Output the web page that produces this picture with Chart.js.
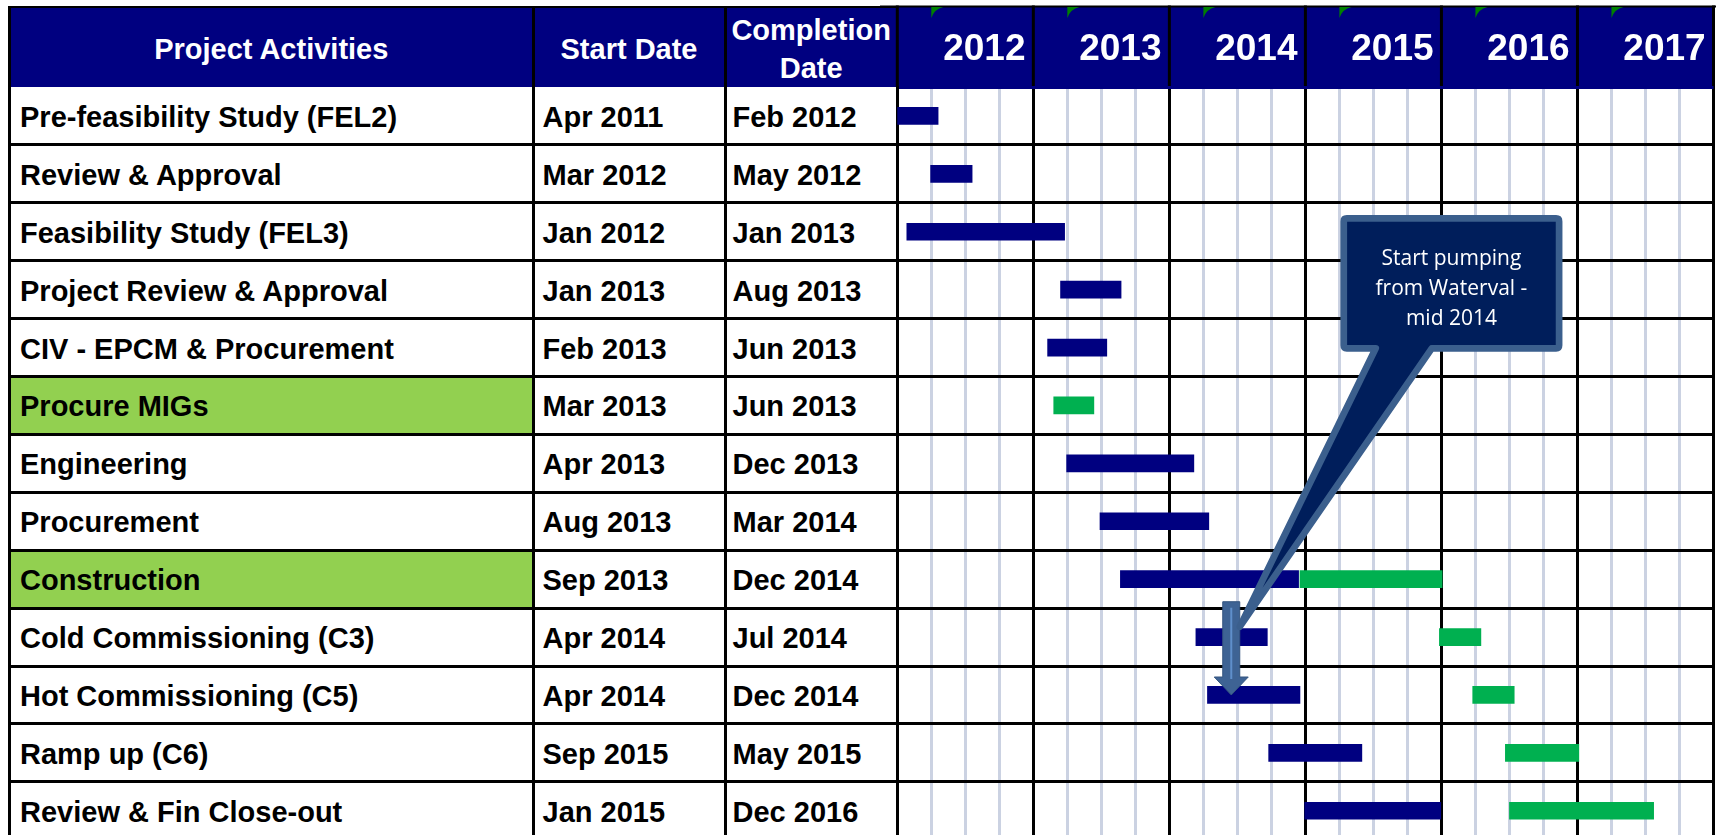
<!DOCTYPE html>
<html>
<head>
<meta charset="utf-8">
<title>Project schedule</title>
<script src="https://cdn.jsdelivr.net/npm/chart.js@4.4.1/dist/chart.umd.min.js"></script>
<style>
  html, body { margin: 0; padding: 0; background: #fff; overflow: hidden; }
  #page { position: relative; width: 1716px; height: 835px; overflow: hidden;
          font-family: 'Liberation Sans', Arial, sans-serif; font-weight: bold; }
  #ganttCanvas { position: absolute; left: 880px; top: 0; }
  .abs { position: absolute; box-sizing: border-box; }
  .cell { display: flex; align-items: center; white-space: nowrap; color: #000; font-size: 29px; padding-top: 3px; }
  .head { display: flex; align-items: center; justify-content: center; text-align: center;
          color: #fff; font-size: 29px; line-height: 38px; padding-top: 4px; }
  .line { background: #000; }
</style>
</head>
<body>
<div id="page">
  <div id="table"></div>
  <canvas id="ganttCanvas" width="836" height="860"></canvas>
</div>
<script>
// chart data
const activities = [
  'Pre-feasibility Study (FEL2)',
  'Review & Approval',
  'Feasibility Study (FEL3)',
  'Project Review & Approval',
  'CIV - EPCM & Procurement',
  'Procure MIGs',
  'Engineering',
  'Procurement',
  'Construction',
  'Cold Commissioning (C3)',
  'Hot Commissioning (C5)',
  'Ramp up (C6)',
  'Review & Fin Close-out'
];
const startDates = ['Apr 2011', 'Mar 2012', 'Jan 2012', 'Jan 2013', 'Feb 2013', 'Mar 2013', 'Apr 2013',
                    'Aug 2013', 'Sep 2013', 'Apr 2014', 'Apr 2014', 'Sep 2015', 'Jan 2015'];
const completionDates = ['Feb 2012', 'May 2012', 'Jan 2013', 'Aug 2013', 'Jun 2013', 'Jun 2013', 'Dec 2013',
                         'Mar 2014', 'Dec 2014', 'Jul 2014', 'Dec 2014', 'May 2015', 'Dec 2016'];
const highlightedActivities = ['Procure MIGs', 'Construction'];
const columnTitles = ['Project Activities', 'Start Date', 'Completion<br>Date'];
const years = [2012, 2013, 2014, 2015, 2016, 2017];

// bars as [start, end] in decimal years
const plannedBars = [
  [2012.00, 2012.30], [2012.245, 2012.55], [2012.07, 2013.23], [2013.20, 2013.645], [2013.105, 2013.54],
  null, [2013.245, 2014.18], [2013.49, 2014.29], [2013.64, 2014.95], [2014.195, 2014.72],
  [2014.28, 2014.96], [2014.73, 2015.415], [2014.995, 2015.995]
];
const revisedBars = [
  null, null, null, null, null,
  [2013.15, 2013.445], null, null, [2014.96, 2016.005], [2015.985, 2016.29],
  [2016.23, 2016.535], [2016.47, 2017.01], [2016.50, 2017.56]
];

const calloutLines = ['Start pumping', 'from Waterval -', 'mid 2014'];

// layout
const FONT = "'Liberation Sans', Arial, sans-serif";
const NAVY = '#000080';
const ROW_H = 57.9;
const HEAD_TOP = 7;
const HEAD_BOTTOM = 87;
const colEdges = [9.5, 533, 725, 897.3];
const colPad = [9, 8, 6];

const table = document.getElementById('table');
function addBox(cls, css, html) {
  const d = document.createElement('div');
  d.className = 'abs ' + cls;
  for (const k in css) d.style[k] = typeof css[k] === 'number' ? css[k] + 'px' : css[k];
  if (html) d.innerHTML = html;
  table.appendChild(d);
  return d;
}

// header block
addBox('', { left: 8, top: HEAD_TOP, width: colEdges[3] - 8, height: HEAD_BOTTOM - HEAD_TOP, background: NAVY });
columnTitles.forEach((t, c) => {
  addBox('head', { left: colEdges[c], top: HEAD_TOP, width: colEdges[c + 1] - colEdges[c], height: HEAD_BOTTOM - HEAD_TOP }, t);
});

// rows
activities.forEach((name, i) => {
  const top = HEAD_BOTTOM + i * ROW_H;
  if (highlightedActivities.includes(name)) {
    addBox('', { left: colEdges[0], top: top, width: colEdges[1] - colEdges[0], height: ROW_H, background: '#92D050' });
  }
  [name, startDates[i], completionDates[i]].forEach((txt, c) => {
    const cell = addBox('cell', { left: colEdges[c] + 1.5 + colPad[c], top: top, height: ROW_H });
    cell.textContent = txt;
  });
});

// grid lines of the table
addBox('line', { left: 8, top: 5.5, width: colEdges[3] - 8, height: 2 });
colEdges.slice(0, 3).forEach(x => {
  addBox('line', { left: x - 1.5, top: 5.5, width: 3, height: 840 });
});
for (let i = 1; i <= activities.length; i++) {
  addBox('line', { left: 8, top: HEAD_BOTTOM + i * ROW_H - 1.5, width: colEdges[3] - 8, height: 3 });
}

// year header: navy band, separators and small green markers
const headerPlugin = {
  id: 'yearHeader',
  beforeDraw(chart) {
    const { ctx, chartArea: a, scales: { x } } = chart;
    ctx.save();
    ctx.fillStyle = NAVY;
    ctx.fillRect(a.left, HEAD_TOP, a.right - a.left, a.top - HEAD_TOP);
    ctx.fillStyle = '#000';
    ctx.fillRect(0, 5.5, a.right + 3, 2);
    years.concat([years[years.length - 1] + 1]).forEach(yr => {
      const px = x.getPixelForValue(yr);
      ctx.fillRect(px - 1.5, 5.5, 3, a.top - 5.5);
    });
    ctx.fillStyle = '#008000';
    years.forEach(yr => {
      const px = x.getPixelForValue(yr + 0.25);
      ctx.beginPath();
      ctx.moveTo(px, HEAD_TOP);
      ctx.lineTo(px + 12, HEAD_TOP);
      ctx.quadraticCurveTo(px + 3, HEAD_TOP + 2, px, HEAD_TOP + 11);
      ctx.closePath();
      ctx.fill();
    });
    ctx.restore();
  }
};

// arrow and speech-bubble note
const calloutPlugin = {
  id: 'callout',
  afterDraw(chart) {
    const { ctx, scales: { x, y } } = chart;
    ctx.save();

    // down arrow
    const ax = x.getPixelForValue(2014.455);
    const aTop = y.getPixelForValue(8.39);
    const aHead = y.getPixelForValue(9.69);
    const aTip = y.getPixelForValue(10.0);
    ctx.beginPath();
    ctx.moveTo(ax - 8.5, aTop);
    ctx.lineTo(ax + 8.5, aTop);
    ctx.lineTo(ax + 8.5, aHead);
    ctx.lineTo(ax + 17, aHead);
    ctx.lineTo(ax, aTip);
    ctx.lineTo(ax - 17, aHead);
    ctx.lineTo(ax - 8.5, aHead);
    ctx.closePath();
    ctx.fillStyle = '#3E6394';
    ctx.fill();
    ctx.strokeStyle = '#34557F';
    ctx.lineWidth = 1;
    ctx.stroke();
    ctx.strokeStyle = '#5F8FCB';
    ctx.lineWidth = 2;
    ctx.beginPath();
    ctx.moveTo(ax, aTop + 6);
    ctx.lineTo(ax, aHead + 2);
    ctx.stroke();

    // bubble
    const L = x.getPixelForValue(2015.282), R = x.getPixelForValue(2016.865);
    const T = y.getPixelForValue(1.769), B = y.getPixelForValue(4.013);
    const t1 = x.getPixelForValue(2015.517), t2 = x.getPixelForValue(2015.929);
    const tipX = x.getPixelForValue(2014.518), tipY = y.getPixelForValue(8.821);
    const r = 3;
    ctx.beginPath();
    ctx.moveTo(L + r, T);
    ctx.lineTo(R - r, T);
    ctx.quadraticCurveTo(R, T, R, T + r);
    ctx.lineTo(R, B - r);
    ctx.quadraticCurveTo(R, B, R - r, B);
    ctx.lineTo(t2, B);
    ctx.lineTo(tipX, tipY);
    ctx.lineTo(t1, B);
    ctx.lineTo(L + r, B);
    ctx.quadraticCurveTo(L, B, L, B - r);
    ctx.lineTo(L, T + r);
    ctx.quadraticCurveTo(L, T, L + r, T);
    ctx.closePath();
    ctx.fillStyle = '#001E5B';
    ctx.fill();
    ctx.strokeStyle = '#3B5F8D';
    ctx.lineWidth = 6.7;
    ctx.lineJoin = 'round';
    ctx.stroke();

    ctx.fillStyle = '#fff';
    ctx.font = "21px 'Open Sans', 'Liberation Sans', sans-serif";
    ctx.textAlign = 'center';
    ctx.textBaseline = 'middle';
    const cx = (L + R) / 2;
    [2.436, 2.954, 3.472].forEach((row, k) => {
      ctx.fillText(calloutLines[k], cx, y.getPixelForValue(row) + 2);
    });
    ctx.restore();
  }
};

new Chart(document.getElementById('ganttCanvas'), {
  type: 'bar',
  data: {
    labels: activities,
    datasets: [
      { label: 'Plan', data: plannedBars, backgroundColor: NAVY },
      { label: 'Revised', data: revisedBars, backgroundColor: '#00B050' }
    ]
  },
  options: {
    indexAxis: 'y',
    responsive: false,
    animation: false,
    events: [],
    layout: { padding: { left: 17.3, right: 2.5, top: HEAD_TOP, bottom: 20.3 } },
    plugins: { legend: { display: false }, tooltip: { enabled: false } },
    datasets: { bar: { grouped: false, barThickness: 17, borderSkipped: false, borderWidth: 0 } },
    scales: {
      x: {
        type: 'linear',
        position: 'top',
        min: 2012,
        max: 2018,
        afterFit: s => {
          s.height = HEAD_BOTTOM - HEAD_TOP;
          s.paddingLeft = 0;
          s.paddingRight = 0;
        },
        border: { display: false },
        grid: {
          drawTicks: false,
          color: c => Number.isInteger(c.tick && c.tick.value) ? '#000' : '#CBD2E2',
          lineWidth: c => Number.isInteger(c.tick && c.tick.value) ? 3 : 3
        },
        ticks: {
          stepSize: 0.25,
          autoSkip: false,
          maxRotation: 0,
          labelOffset: 87,
          padding: 15,
          color: '#fff',
          font: { family: FONT, size: 37, weight: 'bold' },
          callback: v => (Number.isInteger(v) && years.includes(v)) ? String(v) : ''
        }
      },
      y: {
        ticks: { display: false },
        border: { color: '#000', width: 3 },
        grid: {
          drawTicks: false,
          color: c => c.index === 0 ? NAVY : '#000',
          lineWidth: 3
        }
      }
    }
  },
  plugins: [headerPlugin, calloutPlugin]
});
</script>
</body>
</html>
